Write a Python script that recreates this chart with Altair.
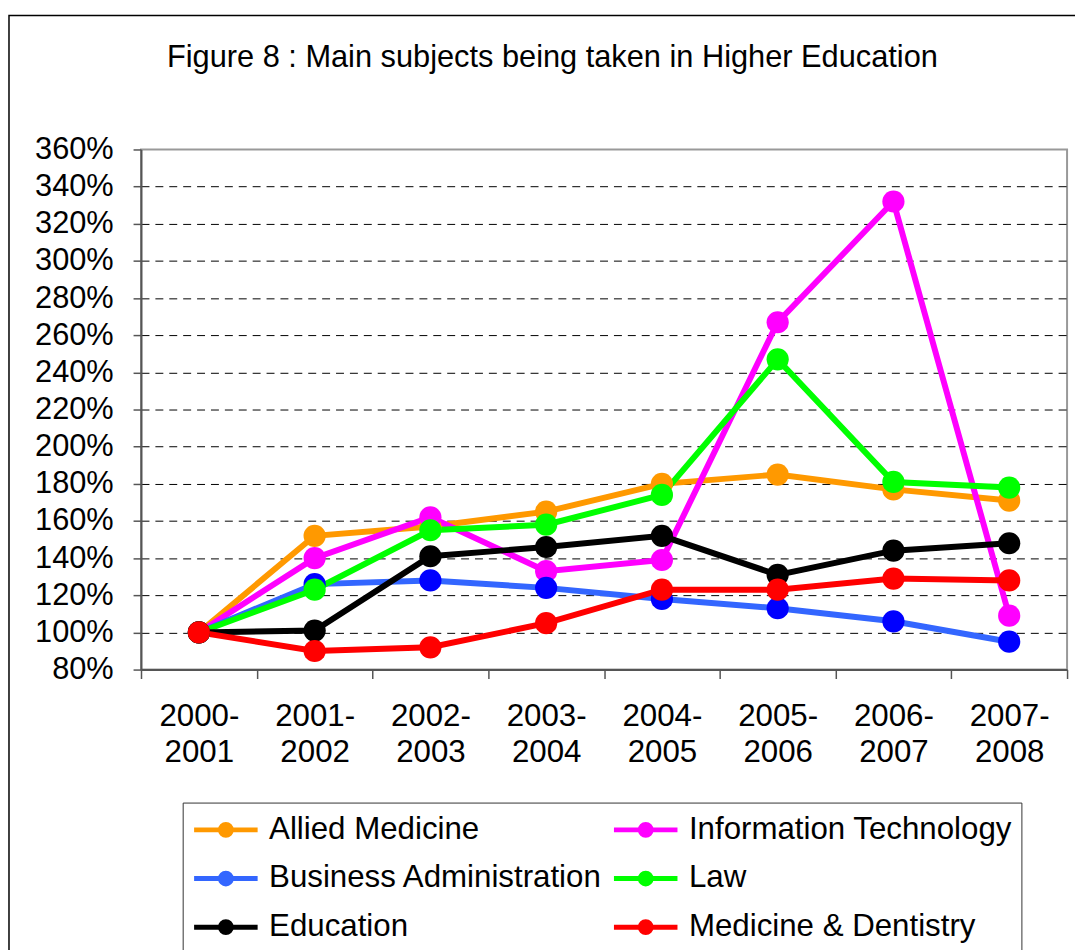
import altair as alt
import pandas as pd

years = ["2000-2001", "2001-2002", "2002-2003", "2003-2004",
         "2004-2005", "2005-2006", "2006-2007", "2007-2008"]
# drawing order of the series
series = ["Allied Medicine", "Information Technology", "Business Administration",
          "Law", "Education", "Medicine & Dentistry"]
# legend order (filled column by column)
legend_order = ["Allied Medicine", "Business Administration", "Education",
                "Information Technology", "Law", "Medicine & Dentistry"]

allied_medicine = [100, 152, 157, 165, 180, 185, 177, 171]
information_technology = [100, 140, 162, 133, 139, 267, 332, 109]
business_administration = [100, 126, 128, 124, 118, 113, 106, 95]
law = [100, 123, 155, 158, 174, 247, 181, 178]
education = [100, 101, 141, 146, 152, 131, 144, 148]
medicine_dentistry = [100, 90, 92, 105, 123, 123, 129, 128]

# colours in legend_order
line_colors = ["#FF9900", "#3366FF", "#000000", "#FF00FF", "#00FF00", "#FF0000"]
marker_colors = ["#FF9900", "#0000FF", "#000000", "#FF00FF", "#00FF00", "#FF0000"]
y_ticks = [80, 100, 120, 140, 160, 180, 200, 220, 240, 260, 280, 300, 320, 340, 360]

values = [allied_medicine, information_technology, business_administration,
          law, education, medicine_dentistry]
rows = []
for s, vals in zip(series, values):
    for yr, v in zip(years, vals):
        rows.append({"series": s, "year": yr, "value": v})
df = pd.DataFrame(rows)

FONT = "Liberation Sans"

x_enc = alt.X(
    "year:N", sort=years, bandPosition=0.5,
    scale=alt.Scale(type="band", domain=years, paddingInner=0, paddingOuter=0),
    axis=alt.Axis(title=None, labelAngle=0,
                  labelExpr="[slice(datum.label,0,5), slice(datum.label,5)]",
                  labelLineHeight=37, labelFontSize=31.5, labelFont=FONT,
                  labelColor="black", labelPadding=22, tickBand="extent",
                  tickSize=9, tickColor="#555555", tickWidth=1.5,
                  domainColor="#555555", domainWidth=2, grid=False),
)
y_enc = alt.Y(
    "value:Q",
    scale=alt.Scale(domain=[80, 360], nice=False, zero=False),
    axis=alt.Axis(title=None, values=y_ticks, labelExpr="datum.value + '%'",
                  labelFontSize=31, labelFont=FONT, labelColor="black",
                  labelPadding=20, tickSize=8, tickColor="#555555", tickWidth=1.5,
                  domainColor="#555555", domainWidth=2,
                  grid=True, gridDash=[8, 6], gridWidth=1,
                  gridColor={"condition": {"test": "datum.value == 80 || datum.value == 360",
                                           "value": "transparent"},
                             "value": "#000000"}),
)

legend_symbol = ("M-1,0H3"
                 "M1.34,0A0.34,0.34,0,1,1,0.66,0A0.34,0.34,0,1,1,1.34,0"
                 "M1.16,0A0.16,0.16,0,1,1,0.84,0A0.16,0.16,0,1,1,1.16,0")

lines = alt.Chart(df).mark_line(strokeWidth=6).encode(
    x=x_enc, y=y_enc,
    color=alt.Color("series:N", sort=legend_order,
                    scale=alt.Scale(domain=legend_order, range=line_colors),
                    legend=alt.Legend(title=None, orient="none", legendX=42, legendY=658,
                                      columns=2, symbolType=legend_symbol, symbolSize=1024,
                                      symbolStrokeWidth=5, symbolOpacity=1,
                                      labelFontSize=31.5, labelFont=FONT, labelColor="black",
                                      labelOffset=41, labelLimit=600, rowPadding=15,
                                      columnPadding=0, padding=9, strokeColor="#333333",
                                      fillColor="white")),
)

points = alt.Chart(df).mark_circle(size=500, opacity=1).encode(
    x=x_enc, y=y_enc,
    color=alt.Color("series:N", sort=legend_order,
                    scale=alt.Scale(domain=legend_order, range=marker_colors), legend=None),
)

frame = alt.Chart(pd.DataFrame({"a": [0]})).mark_rect(
    fill="transparent", stroke="black", strokeWidth=1.5, clip=False
).encode(x=alt.value(-133), x2=alt.value(945), y=alt.value(-135), y2=alt.value(815))

chart = alt.layer(frame, lines, points).resolve_scale(color="independent").properties(
    width=933, height=524,
    padding={"left": 134, "top": 139, "right": 8, "bottom": 280},
    autosize=alt.AutoSizeParams(type="none"),
    title=alt.TitleParams("Figure 8 : Main subjects being taken in Higher Education",
                          fontSize=31, font=FONT, fontWeight="normal", color="black",
                          anchor="middle", dx=-52, offset=-84, baseline="alphabetic"),
).configure_view(stroke="#999999", strokeWidth=2)

chart.save("out.html", embed_options={"renderer": "svg", "actions": False})
